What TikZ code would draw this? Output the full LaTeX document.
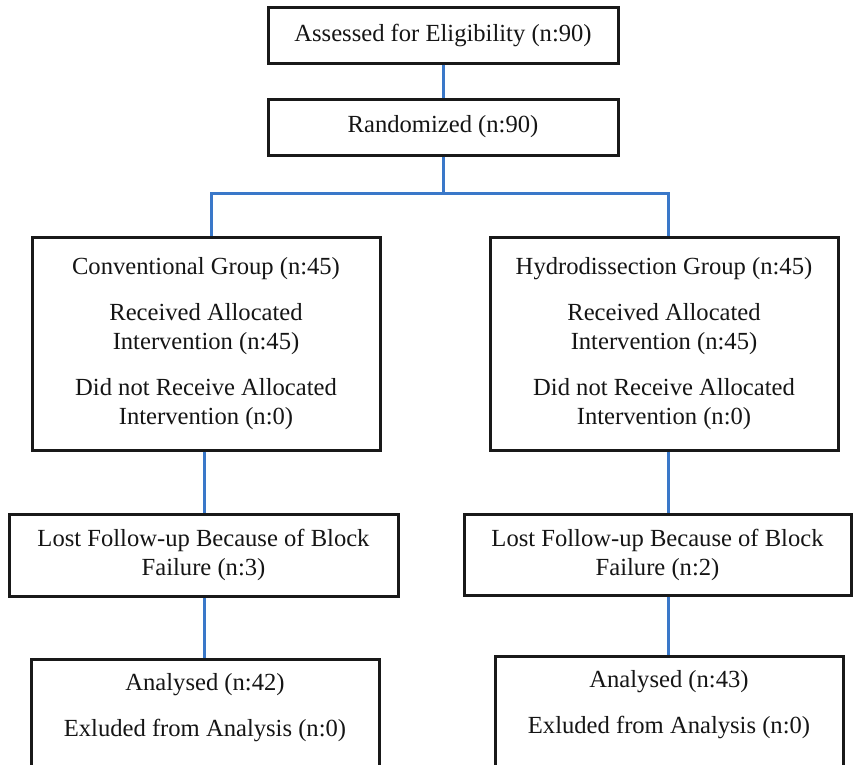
\documentclass[tikz,border=0pt]{standalone}
\usepackage{fontspec}
\setmainfont{Liberation Serif}
\definecolor{conncol}{HTML}{3A78C9}
\definecolor{txtcol}{HTML}{151515}
\begin{document}
\begin{tikzpicture}[x=1pt,y=-1pt,
  box/.style={draw=black!90, line width=3pt, fill=white, inner sep=0pt, align=center,
    text=txtcol, font=\fontsize{24.6}{29}\selectfont},
  txt/.style={inner sep=0pt, align=center, text=txtcol, font=\fontsize{24.6}{29}\selectfont},
  conn/.style={draw=conncol, line width=3pt}]
\useasboundingbox (0,0) rectangle (860,764);
\fill[white] (0,0) rectangle (860,764);
% top boxes
\node[box, minimum width=350, minimum height=56] (assess) at (443,35) {Assessed for Eligibility (n:90)};
\node[box, minimum width=350, minimum height=56] (rand) at (443,127) {Randomized (n:90)};
% group boxes
\node[box, minimum width=348, minimum height=213] (gl) at (206,343.5)
  {Conventional Group (n:45)\\[17pt]Received Allocated\\Intervention (n:45)\\[17pt]Did not Receive Allocated\\Intervention (n:0)};
\node[box, minimum width=348, minimum height=213] (gr) at (664,343.5)
  {Hydrodissection Group (n:45)\\[17pt]Received Allocated\\Intervention (n:45)\\[17pt]Did not Receive Allocated\\Intervention (n:0)};
% lost boxes
\node[box, minimum width=389, minimum height=82] (ll) at (203.5,555) {Lost Follow-up Because of Block\\Failure (n:3)};
\node[box, minimum width=387, minimum height=81] (lr) at (657.5,554.5) {Lost Follow-up Because of Block\\Failure (n:2)};
% analysed boxes (cut off at bottom)
\node[box, anchor=north, minimum width=348, minimum height=140] (al) at (205,658) {};
\node[box, anchor=north, minimum width=348, minimum height=140] (ar) at (669,655) {};
\node[txt] (alt) at (205,708) {Analysed (n:42)\\[17pt]Exluded from Analysis (n:0)};
\node[txt] (art) at (669,705) {Analysed (n:43)\\[17pt]Exluded from Analysis (n:0)};
% connectors
\coordinate (jl) at (211,193);
\coordinate (jr) at (668,193);
\coordinate (xl) at (204,0);
\coordinate (xr) at (668,0);
\draw[conn] (assess.south) -- (rand.north);
\draw[conn] (rand.south) -- (rand.south |- jl);
\draw[conn, line join=miter] (jl |- gl.north) -- (jl) -- (jr) -- (jr |- gr.north);
\draw[conn] (gl.south -| xl) -- (ll.north -| xl);
\draw[conn] (ll.south -| xl) -- (al.north -| xl);
\draw[conn] (gr.south -| xr) -- (lr.north -| xr);
\draw[conn] (lr.south -| xr) -- (ar.north -| xr);
\end{tikzpicture}
\end{document}
